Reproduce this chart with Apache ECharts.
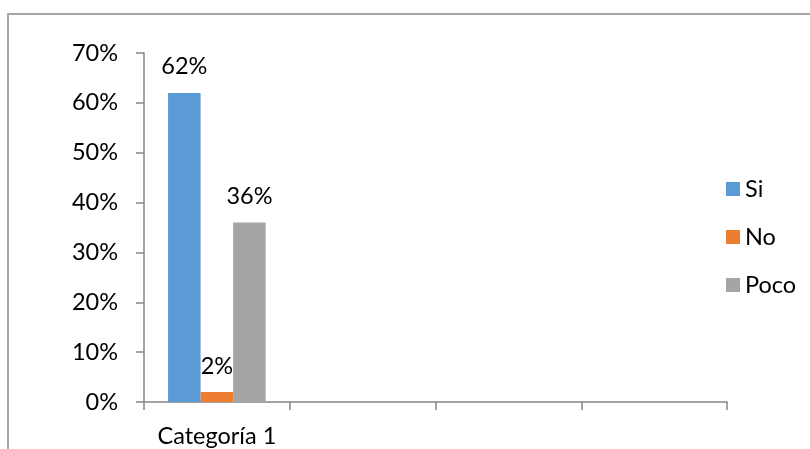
<!DOCTYPE html>
<html>
<head>
<meta charset="utf-8">
<script src="https://cdn.jsdelivr.net/npm/echarts@6/dist/echarts.min.js"></script>
<style>
  html, body { margin: 0; padding: 0; background: #fff; }
  #chart { width: 810px; height: 449px; }
</style>
</head>
<body>
<div id="chart"></div>
<script>
// Category slots along the x axis (only the first one is named)
const categories = ['Categoría 1', '', '', ''];
// Percent values per response, first category only
const siValues = [62, null, null, null];
const noValues = [2, null, null, null];
const pocoValues = [36, null, null, null];
const seriesNames = ['Si', 'No', 'Poco'];
const yMax = 70;
const yStep = 10;

const FONT = 'Lato';
const FS = 23.5;
const chart = echarts.init(document.getElementById('chart'), null, { renderer: 'canvas' });

const labelStyle = {
  show: true,
  position: 'top',
  distance: 14,
  formatter: p => p.value + '%',
  color: '#000',
  fontSize: FS,
  fontFamily: FONT
};

function bar(name, data, color) {
  return {
    name: name,
    type: 'bar',
    data: data,
    barGap: '0%',
    barCategoryGap: '33%',
    itemStyle: { color: color },
    label: labelStyle
  };
}

chart.setOption({
  animation: false,
  textStyle: { fontFamily: FONT },
  graphic: [{
    type: 'polyline',
    shape: { points: [[8, 449], [8, 14], [810, 14]] },
    style: { stroke: '#a6a6a6', lineWidth: 2, fill: null },
    silent: true
  }],
  grid: { left: 144, right: 83, top: 53, bottom: 47 },
  legend: {
    orient: 'vertical',
    left: 721,
    top: 172,
    icon: 'rect',
    itemWidth: 14,
    itemHeight: 14,
    itemGap: 24,
    data: seriesNames,
    textStyle: { fontSize: FS, color: '#000', fontFamily: FONT, padding: [0, 0, 0, 0] }
  },
  xAxis: {
    type: 'category',
    data: categories,
    boundaryGap: true,
    axisLine: { lineStyle: { color: '#868686', width: 1.5 } },
    axisTick: { show: true, length: 8, lineStyle: { color: '#868686', width: 1.5 } },
    axisLabel: { color: '#000', fontSize: FS, fontFamily: FONT, margin: 22, interval: 0 },
    splitLine: { show: false }
  },
  yAxis: {
    type: 'value',
    min: 0,
    max: yMax,
    interval: yStep,
    axisLine: { show: true, lineStyle: { color: '#868686', width: 1.5 } },
    axisTick: { show: true, length: 8, lineStyle: { color: '#868686', width: 1.5 } },
    axisLabel: { color: '#000', fontSize: FS, fontFamily: FONT, margin: 26, formatter: '{value}%' },
    splitLine: { show: false }
  },
  series: [
    bar(seriesNames[0], siValues, '#5B9BD5'),
    bar(seriesNames[1], noValues, '#ED7D31'),
    bar(seriesNames[2], pocoValues, '#A5A5A5')
  ]
});
</script>
</body>
</html>
